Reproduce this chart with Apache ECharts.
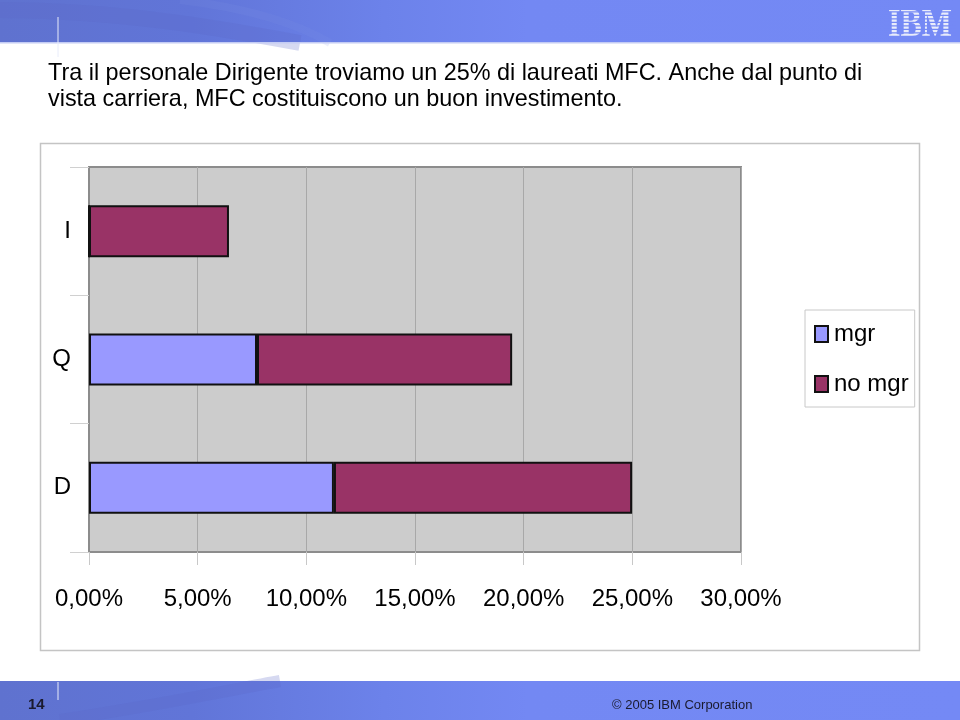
<!DOCTYPE html>
<html>
<head>
<meta charset="utf-8">
<script src="https://cdn.jsdelivr.net/npm/echarts@6/dist/echarts.min.js"></script>
<style>html,body{margin:0;padding:0;background:#fff}#c{width:960px;height:720px}</style>
</head>
<body>
<div id="c"></div>
<script>
// Data
var categories = ['D', 'Q', 'I']; // bottom to top
var mgrValues = [11.27, 7.73, 0];
var noMgrValues = [13.72, 11.74, 6.44];
var seriesNames = ['mgr', 'no mgr'];
var titleLines = ['Tra il personale Dirigente troviamo un 25% di laureati MFC. Anche dal punto di',
                  'vista carriera, MFC costituiscono un buon investimento.'];
var pageNumber = '14';
var copyright = '\u00A9 2005 IBM Corporation';

var NARROW = '"Liberation Sans Narrow", "Arial Narrow", "Liberation Sans", Arial, sans-serif';
var SANS = '"Liberation Sans", Arial, sans-serif';

var chart = echarts.init(document.getElementById('c'), null, {renderer: 'canvas'});

function bannerGradient() {
  return new echarts.graphic.LinearGradient(0, 0, 1, 0, [
    {offset: 0, color: '#5f72cf'},
    {offset: 0.2, color: '#6175d8'},
    {offset: 0.4, color: '#6c82ea'},
    {offset: 0.55, color: '#7388f3'},
    {offset: 1, color: '#7489f5'}
  ]);
}

var graphics = [
  // header banner
  {type: 'rect', shape: {x: 0, y: 0, width: 960, height: 43}, style: {fill: bannerGradient()}, z: 0},
  {type: 'bezierCurve', shape: {x1: 0, y1: 10, x2: 300, y2: 43, cpx1: 120, cpy1: 10, cpx2: 230, cpy2: 30}, style: {stroke: 'rgba(90,105,200,0.25)', lineWidth: 16, fill: null}, z: 1},
  {type: 'bezierCurve', shape: {x1: 180, y1: 0, x2: 330, y2: 43, cpx1: 250, cpy1: 8, cpx2: 300, cpy2: 25}, style: {stroke: 'rgba(130,145,230,0.15)', lineWidth: 8, fill: null}, z: 1},
  {type: 'rect', shape: {x: 0, y: 42, width: 960, height: 1.5}, style: {fill: '#c4ccf4'}, z: 2},
  {type: 'line', shape: {x1: 58, y1: 17, x2: 58, y2: 57}, style: {stroke: '#e8ecfa', lineWidth: 1}, z: 3},
  {type: 'text', x: 888, y: 6, scaleX: 0.8, style: {text: 'IBM', fontSize: 40, fontWeight: 'bold', fontFamily: '"Liberation Serif", serif', fill: '#e9ecfb'}, z: 3},
  // footer banner
  {type: 'rect', shape: {x: 0, y: 681, width: 960, height: 39}, style: {fill: bannerGradient()}, z: 0},
  {type: 'bezierCurve', shape: {x1: 60, y1: 720, x2: 280, y2: 681, cpx1: 160, cpy1: 705, cpx2: 230, cpy2: 690}, style: {stroke: 'rgba(90,105,200,0.25)', lineWidth: 12, fill: null}, z: 1},
  {type: 'line', shape: {x1: 58, y1: 682, x2: 58, y2: 700}, style: {stroke: '#e8ecfa', lineWidth: 1}, z: 3},
  {type: 'text', left: 28, top: 697, style: {text: pageNumber, fontSize: 15, fontWeight: 'bold', fontFamily: NARROW, fill: '#1a1a2e'}, z: 3},
  {type: 'text', left: 612, top: 699, style: {text: copyright, fontSize: 13, fontFamily: SANS, fill: '#1a1a2e'}, z: 3},
  // title
  {type: 'text', left: 48, top: 61, style: {text: titleLines.join('\n'), fontSize: 23.4, lineHeight: 26, fontFamily: SANS, fill: '#000'}, z: 3},
  // chart outer frame
  {type: 'rect', shape: {x: 40.5, y: 143.5, width: 879, height: 507}, style: {fill: null, stroke: '#c4c4c4', lineWidth: 1.5}, z: 0}
];

// IBM stripes
for (var i = 0; i < 8; i++) {
  graphics.push({type: 'rect', shape: {x: 884, y: 9 + i * 3.5 + 2.2, width: 72, height: 1.2}, style: {fill: '#7489f5'}, z: 4});
}

var option = {
  backgroundColor: '#ffffff',
  animation: false,
  graphic: graphics,
  grid: {
    left: 89, right: 219, top: 167, bottom: 168,
    show: true, backgroundColor: '#cccccc', borderColor: '#8c8c8c', borderWidth: 2
  },
  legend: {
    orient: 'vertical', left: 805, top: 310,
    width: 108,
    padding: [12, 6, 11, 9],
    itemGap: 26,
    itemWidth: 13, itemHeight: 16,
    icon: 'rect',
    backgroundColor: '#ffffff', borderColor: '#c8c8c8', borderWidth: 1,
    textStyle: {fontSize: 24, fontFamily: NARROW, color: '#000', padding: [0, 0, 0, 1]},
    data: seriesNames
  },
  xAxis: {
    type: 'value', min: 0, max: 30, interval: 5,
    axisLine: {show: false},
    axisTick: {show: true, length: 13, lineStyle: {color: '#c8c8c8'}},
    axisLabel: {
      margin: 35, fontSize: 24, fontFamily: NARROW, color: '#000',
      formatter: function (v) { return v.toFixed(2).replace('.', ',') + '%'; }
    },
    splitLine: {show: true, lineStyle: {color: '#a8a8a8', width: 1}}
  },
  yAxis: {
    type: 'category', data: categories,
    axisLine: {show: true, lineStyle: {color: '#8c8c8c', width: 2}},
    axisTick: {show: true, length: 19, lineStyle: {color: '#d0d0d0'}},
    axisLabel: {margin: 18, fontSize: 24, fontFamily: NARROW, color: '#000'},
    splitLine: {show: false}
  },
  series: [
    {
      name: seriesNames[0], type: 'bar', stack: 'tot', barWidth: 52,
      data: mgrValues,
      itemStyle: {color: '#9999ff', borderColor: '#111', borderWidth: 2}
    },
    {
      name: seriesNames[1], type: 'bar', stack: 'tot', barWidth: 52,
      data: noMgrValues,
      itemStyle: {color: '#993366', borderColor: '#111', borderWidth: 2}
    }
  ]
};
chart.setOption(option);
</script>
</body>
</html>
